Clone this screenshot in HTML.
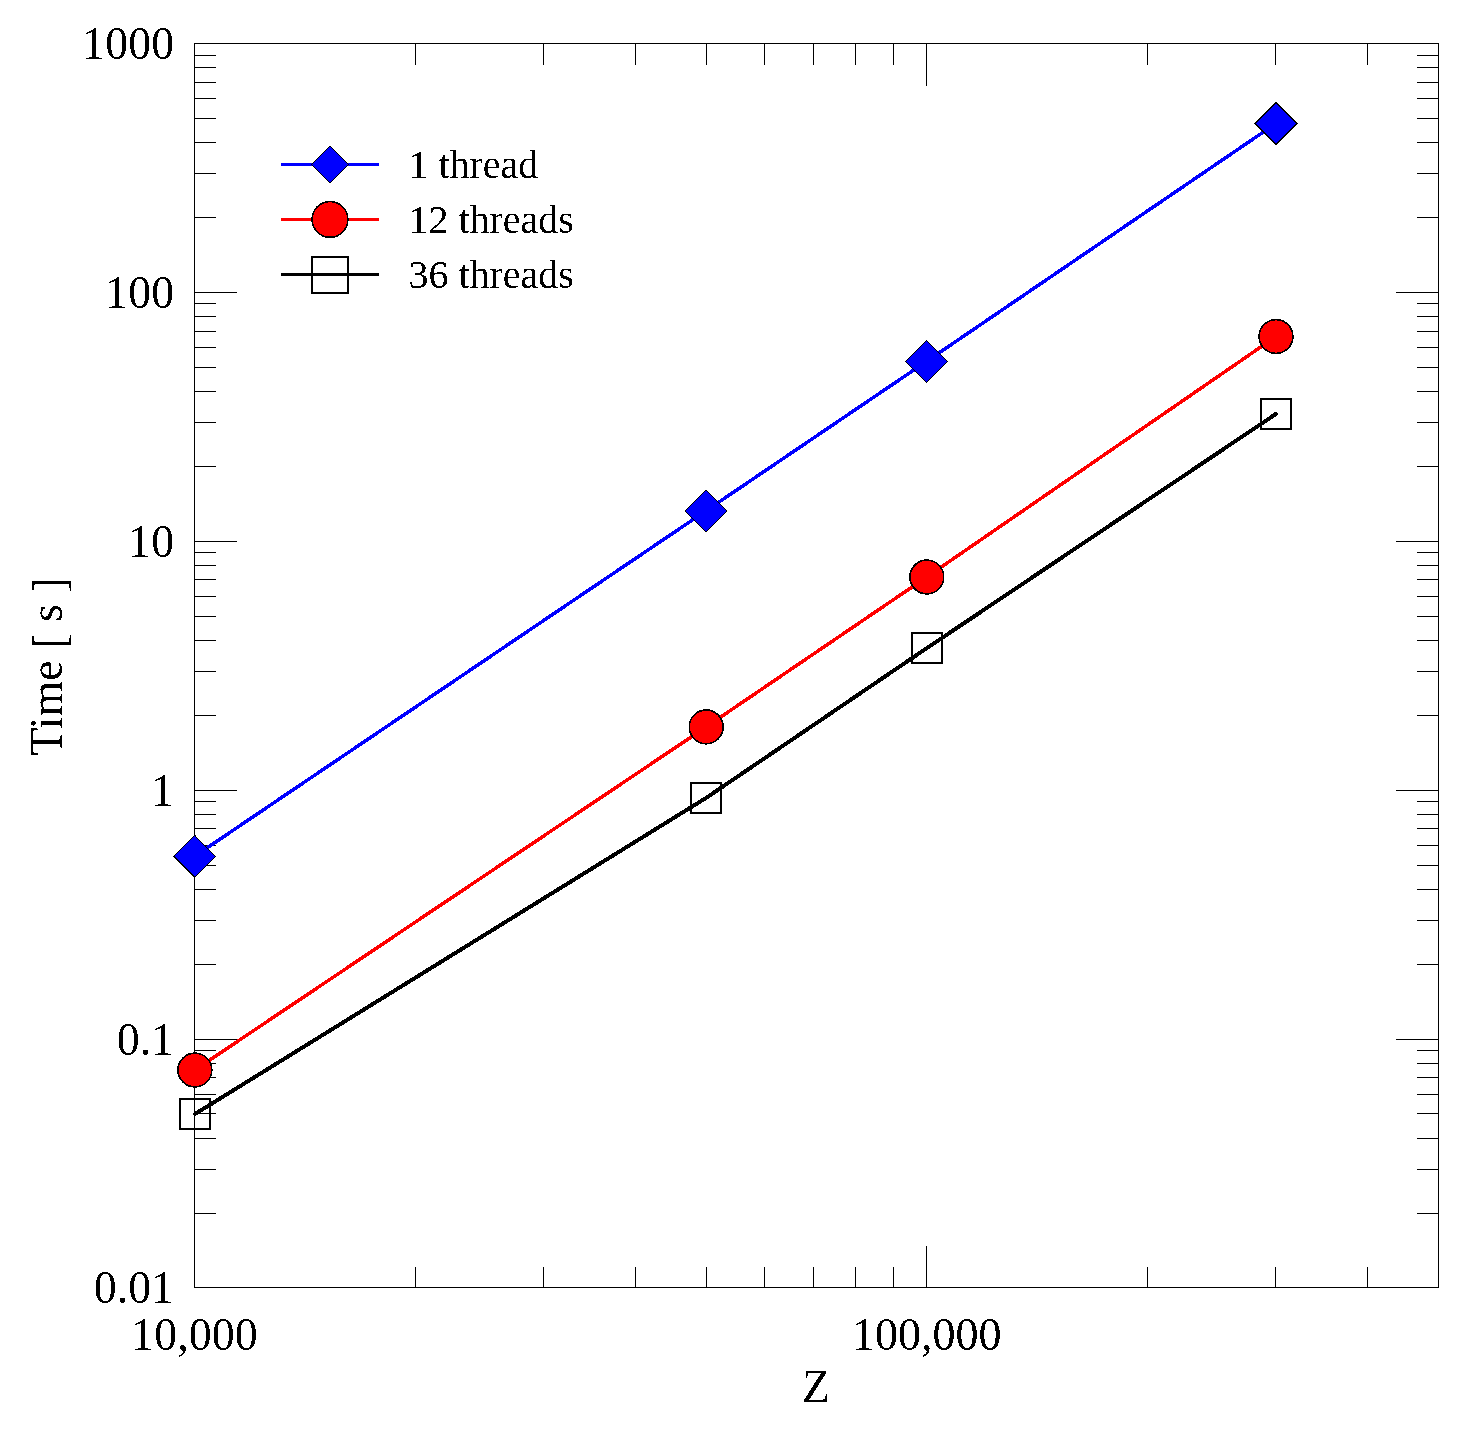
<!DOCTYPE html>
<html><head><meta charset="utf-8"><style>
html,body{margin:0;padding:0;background:#fff;}
svg{display:block;}
</style></head><body>
<svg width="1475" height="1432" viewBox="0 0 1475 1432">
<defs><filter id="bin" x="0" y="0" width="100%" height="100%" filterUnits="userSpaceOnUse"><feComponentTransfer><feFuncA type="discrete" tableValues="0 1"/></feComponentTransfer></filter></defs>
<rect width="1475" height="1432" fill="#fff"/>
<path d="M194 55.5H216M1439 55.5H1417M194 67.5H216M1439 67.5H1417M194 82.5H216M1439 82.5H1417M194 98.5H216M1439 98.5H1417M194 118.5H216M1439 118.5H1417M194 142.5H216M1439 142.5H1417M194 173.5H216M1439 173.5H1417M194 217.5H216M1439 217.5H1417M194 303.5H216M1439 303.5H1417M194 316.5H216M1439 316.5H1417M194 331.5H216M1439 331.5H1417M194 347.5H216M1439 347.5H1417M194 367.5H216M1439 367.5H1417M194 391.5H216M1439 391.5H1417M194 422.5H216M1439 422.5H1417M194 466.5H216M1439 466.5H1417M194 552.5H216M1439 552.5H1417M194 565.5H216M1439 565.5H1417M194 579.5H216M1439 579.5H1417M194 596.5H216M1439 596.5H1417M194 616.5H216M1439 616.5H1417M194 640.5H216M1439 640.5H1417M194 671.5H216M1439 671.5H1417M194 715.5H216M1439 715.5H1417M194 801.5H216M1439 801.5H1417M194 814.5H216M1439 814.5H1417M194 828.5H216M1439 828.5H1417M194 845.5H216M1439 845.5H1417M194 865.5H216M1439 865.5H1417M194 889.5H216M1439 889.5H1417M194 920.5H216M1439 920.5H1417M194 964.5H216M1439 964.5H1417M194 1050.5H216M1439 1050.5H1417M194 1063.5H216M1439 1063.5H1417M194 1077.5H216M1439 1077.5H1417M194 1094.5H216M1439 1094.5H1417M194 1113.5H216M1439 1113.5H1417M194 1138.5H216M1439 1138.5H1417M194 1169.5H216M1439 1169.5H1417M194 1213.5H216M1439 1213.5H1417M194 292.5H237M1439 292.5H1396M194 541.5H237M1439 541.5H1396M194 790.5H237M1439 790.5H1396M194 1039.5H237M1439 1039.5H1396M415.5 1288V1267M415.5 43V65M543.5 1288V1267M543.5 43V65M635.5 1288V1267M635.5 43V65M706.5 1288V1267M706.5 43V65M764.5 1288V1267M764.5 43V65M813.5 1288V1267M813.5 43V65M855.5 1288V1267M855.5 43V65M893.5 1288V1267M893.5 43V65M1147.5 1288V1267M1147.5 43V65M1275.5 1288V1267M1275.5 43V65M1367.5 1288V1267M1367.5 43V65M926.5 1288V1246M926.5 43V86" stroke="#000" stroke-width="1" fill="none" shape-rendering="crispEdges"/>
<rect x="194.5" y="43.5" width="1244.0" height="1244.0" stroke="#000" stroke-width="1" fill="none" shape-rendering="crispEdges"/>
<g shape-rendering="crispEdges">
<path d="M195.0 1114.0 L706.0 798.0 L927.0 648.0 L1276.0 413.9" stroke="#000" stroke-width="4" fill="none" stroke-linecap="round" stroke-linejoin="round"/>
<path d="M194.9 1070.0 L706.2 726.9 L926.8 577.0 L1276.0 336.5" stroke="#f00" stroke-width="3.5" fill="none" stroke-linecap="round" stroke-linejoin="round"/>
<path d="M194.6 856.3 L705.9 510.9 L926.6 361.4 L1276.0 123.4" stroke="#00f" stroke-width="3.5" fill="none" stroke-linecap="round" stroke-linejoin="round"/>
</g>
<g>
<rect x="180.1" y="1099.1" width="29.8" height="29.8" fill="none" stroke="#000" stroke-width="2" shape-rendering="crispEdges"/>
<rect x="691.1" y="783.1" width="29.8" height="29.8" fill="none" stroke="#000" stroke-width="2" shape-rendering="crispEdges"/>
<rect x="912.1" y="633.1" width="29.8" height="29.8" fill="none" stroke="#000" stroke-width="2" shape-rendering="crispEdges"/>
<rect x="1261.1" y="399.0" width="29.8" height="29.8" fill="none" stroke="#000" stroke-width="2" shape-rendering="crispEdges"/>
<circle cx="194.9" cy="1070.0" r="16.9" fill="#f00" stroke="#000" stroke-width="1.6" shape-rendering="crispEdges"/>
<circle cx="706.2" cy="726.9" r="16.9" fill="#f00" stroke="#000" stroke-width="1.6" shape-rendering="crispEdges"/>
<circle cx="926.8" cy="577.0" r="16.9" fill="#f00" stroke="#000" stroke-width="1.6" shape-rendering="crispEdges"/>
<circle cx="1276.0" cy="336.5" r="16.9" fill="#f00" stroke="#000" stroke-width="1.6" shape-rendering="crispEdges"/>
<path d="M194.6 835.3L215.6 856.3L194.6 877.3L173.6 856.3Z" fill="#00f" stroke="#000" stroke-width="1" shape-rendering="crispEdges"/>
<path d="M705.9 489.9L726.9 510.9L705.9 531.9L684.9 510.9Z" fill="#00f" stroke="#000" stroke-width="1" shape-rendering="crispEdges"/>
<path d="M926.6 340.4L947.6 361.4L926.6 382.4L905.6 361.4Z" fill="#00f" stroke="#000" stroke-width="1" shape-rendering="crispEdges"/>
<path d="M1276.0 102.4L1297.0 123.4L1276.0 144.4L1255.0 123.4Z" fill="#00f" stroke="#000" stroke-width="1" shape-rendering="crispEdges"/>
</g>
<path d="M281 164.5H379" stroke="#00f" stroke-width="3" shape-rendering="crispEdges"/>
<path d="M281 219.5H379" stroke="#f00" stroke-width="3" shape-rendering="crispEdges"/>
<path d="M281 274.5H379" stroke="#000" stroke-width="3" shape-rendering="crispEdges"/>
<path d="M330.0 146.0L348.5 164.5L330.0 183.0L311.5 164.5Z" fill="#00f" stroke="#000" stroke-width="1" shape-rendering="crispEdges"/>
<circle cx="330.0" cy="219.4" r="17.9" fill="#f00" stroke="#000" stroke-width="1.6" shape-rendering="crispEdges"/>
<rect x="312.0" y="256.5" width="36" height="36" fill="none" stroke="#000" stroke-width="2" shape-rendering="crispEdges"/>
<g font-family="&quot;Liberation Serif&quot;, serif" font-size="40" fill="#000" filter="url(#bin)">
<text x="408.4" y="178">1 thread</text>
<text x="408.4" y="233">12 threads</text>
<text x="408.4" y="288">36 threads</text>
</g>
<g font-family="&quot;Liberation Serif&quot;, serif" font-size="46" fill="#000" filter="url(#bin)">
<text x="174.2" y="59.0" text-anchor="end">1000</text>
<text x="174.2" y="308.0" text-anchor="end">100</text>
<text x="174.2" y="557.0" text-anchor="end">10</text>
<text x="174.2" y="806.0" text-anchor="end">1</text>
<text x="174.2" y="1055.0" text-anchor="end">0.1</text>
<text x="174.2" y="1303.0" text-anchor="end">0.01</text>
<text x="194.5" y="1350" text-anchor="middle">10,000</text>
<text x="926.7" y="1350" text-anchor="middle">100,000</text>
<text x="816" y="1402" text-anchor="middle">Z</text>
<text transform="translate(61.8 666.5) rotate(-90)" text-anchor="middle">Time <tspan dy="2.5">[</tspan><tspan dy="-2.5"> s </tspan><tspan dy="2.5">]</tspan></text>
</g>
</svg>
</body></html>
